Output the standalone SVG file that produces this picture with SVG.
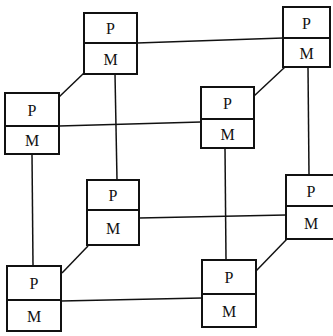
<svg xmlns="http://www.w3.org/2000/svg" width="333" height="336" viewBox="0 0 333 336">
<style>
.box{fill:#fff;stroke:#111;stroke-width:2}
.div{stroke:#111;stroke-width:2}
.ln{stroke:#111;stroke-width:1.5;fill:none}
text{font-family:"Liberation Serif","Times New Roman",serif;font-size:16px;fill:#111;text-anchor:middle}
</style>
<rect width="333" height="336" fill="#fff"/>
<g id="connectors">
<line class="ln" x1="137" y1="43" x2="283" y2="38"/>
<line class="ln" x1="84" y1="73" x2="59" y2="97"/>
<line class="ln" x1="115" y1="74" x2="117" y2="180"/>
<line class="ln" x1="59" y1="126" x2="201" y2="122"/>
<line class="ln" x1="32" y1="154" x2="33" y2="266"/>
<line class="ln" x1="285" y1="67" x2="254" y2="96"/>
<line class="ln" x1="308" y1="67" x2="309" y2="175"/>
<line class="ln" x1="225" y1="148" x2="226" y2="260"/>
<line class="ln" x1="139" y1="218" x2="286" y2="215"/>
<line class="ln" x1="88" y1="246" x2="62" y2="273"/>
<line class="ln" x1="61" y1="301" x2="202" y2="298"/>
<line class="ln" x1="287" y1="239" x2="256" y2="271"/>
</g>
<g id="nodeA"><rect class="box" x="84" y="13" width="53" height="61"/><line class="div" x1="84" y1="43" x2="137" y2="43"/><text x="110.5" y="34">P</text><text x="110.5" y="64.5">M</text></g>
<g id="nodeB"><rect class="box" x="5" y="93" width="54" height="61"/><line class="div" x1="5" y1="126" x2="59" y2="126"/><text x="32" y="115.5">P</text><text x="32" y="145.5">M</text></g>
<g id="nodeC"><rect class="box" x="283" y="7" width="47" height="60"/><line class="div" x1="283" y1="38" x2="330" y2="38"/><text x="306.5" y="28.5">P</text><text x="306.5" y="58.5">M</text></g>
<g id="nodeD"><rect class="box" x="201" y="87" width="53" height="61"/><line class="div" x1="201" y1="119" x2="254" y2="119"/><text x="227.5" y="109">P</text><text x="227.5" y="139.5">M</text></g>
<g id="nodeE"><rect class="box" x="87" y="180" width="52" height="65"/><line class="div" x1="87" y1="210" x2="139" y2="210"/><text x="113" y="201">P</text><text x="113" y="233.5">M</text></g>
<g id="nodeF"><rect class="box" x="7" y="266" width="54" height="65"/><line class="div" x1="7" y1="300" x2="61" y2="300"/><text x="34" y="289">P</text><text x="34" y="321.5">M</text></g>
<g id="nodeG"><rect class="box" x="286" y="175" width="50" height="64"/><line class="div" x1="286" y1="206" x2="336" y2="206"/><text x="311" y="196.5">P</text><text x="311" y="228.5">M</text></g>
<g id="nodeH"><rect class="box" x="202" y="260" width="54" height="67"/><line class="div" x1="202" y1="294" x2="256" y2="294"/><text x="229" y="283">P</text><text x="229" y="316.5">M</text></g>
</svg>
